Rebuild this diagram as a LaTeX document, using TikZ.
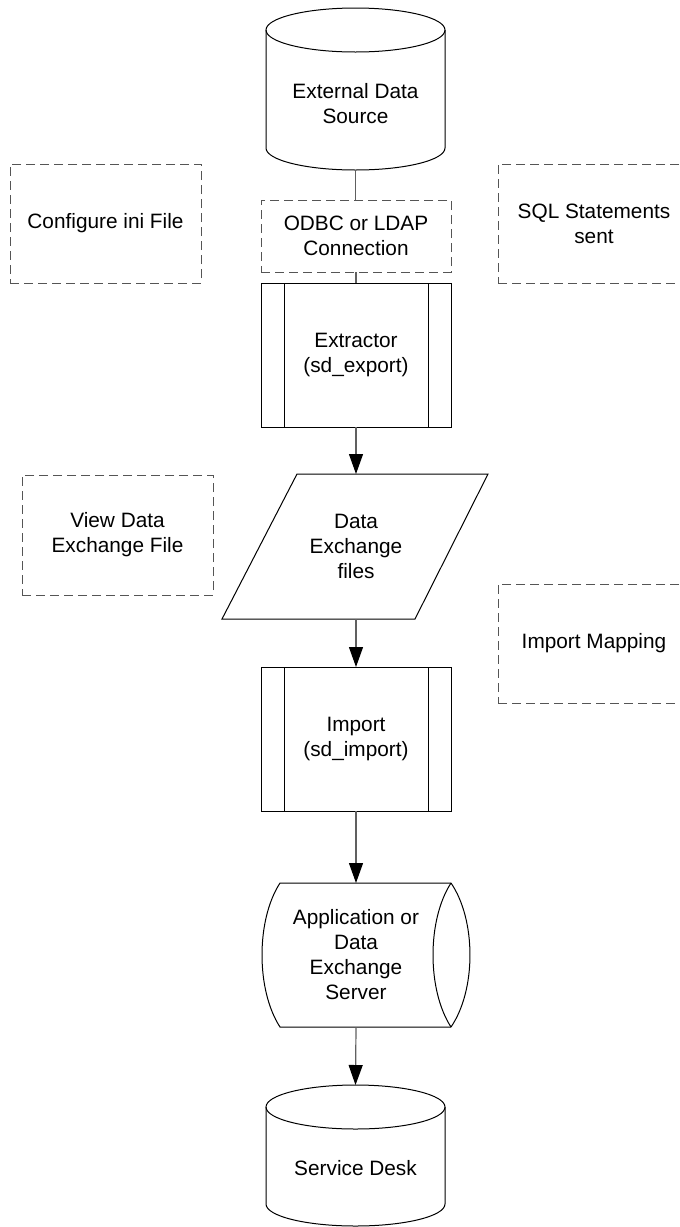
\documentclass[tikz,border=0pt]{standalone}
\usepackage{fontspec}
\setmainfont{Liberation Sans}
\usetikzlibrary{arrows.meta}
\definecolor{dashgray}{HTML}{555555}
\definecolor{linegray}{HTML}{606060}
\tikzset{
  every node/.style={font=\fontsize{20.8}{25}\selectfont, align=center, inner sep=0pt, outer sep=0pt},
  note/.style={draw=dashgray, dash pattern=on 9pt off 5pt, line width=1pt},
  proc/.style={draw=black, line width=1pt},
  conn/.style={draw=linegray, line width=1.2pt},
  arr/.style={conn, -{Triangle[length=20pt,width=14pt,fill=black,color=black]}},
}
\begin{document}
\begin{tikzpicture}[x=1pt,y=-1pt]
\useasboundingbox (0,0) rectangle (680,1227);

% ---- External Data Source (cylinder)
\node[minimum width=179pt, minimum height=162pt] (src) at (355.5,89) {};
\node (srcT) at (355.5,104) {External Data\\Source};
\draw[proc] (355.5,30) ellipse [x radius=89.5pt, y radius=22pt];
\draw[proc] (266,30) -- (266,148)
  .. controls (266,160.15) and (306.07,170) .. (355.5,170)
  .. controls (404.93,170) and (445,160.15) .. (445,148) -- (445,30);

% ---- side notes
\node[note, minimum width=191pt, minimum height=119pt] (cfg) at (105.5,223.5) {Configure ini File};
\node[note, minimum width=192pt, minimum height=119pt] (sql) at (594,223.5) {};
\node (sqlT) at (594,224) {SQL Statements\\sent};
\node[note, minimum width=191pt, minimum height=120pt] (view) at (117.5,535) {View Data\\Exchange File};
\node[note, minimum width=192pt, minimum height=119pt] (map) at (594,643.5) {};
\node (mapT) at (594,643.5) {Import Mapping};

% ---- ODBC connection
\node[note, minimum width=190pt, minimum height=72pt] (odbc) at (356,236) {ODBC or LDAP\\Connection};

% ---- Extractor (predefined process)
\node[proc, minimum width=190pt, minimum height=144pt] (ext) at (356,355) {Extractor\\(sd\_export)};
\draw[proc] ([xshift=23pt]ext.north west) -- ([xshift=23pt]ext.south west);
\draw[proc] ([xshift=-23pt]ext.north east) -- ([xshift=-23pt]ext.south east);

% ---- Data Exchange files (parallelogram)
\node[minimum width=190pt, minimum height=145pt] (dx) at (356,546.5) {Data\\Exchange\\files};
\draw[proc] (297,474) -- (488,474) -- (415,619) -- (222,619) -- cycle;

% ---- Import (predefined process)
\node[proc, minimum width=190pt, minimum height=144pt] (imp) at (356,739) {Import\\(sd\_import)};
\draw[proc] ([xshift=23pt]imp.north west) -- ([xshift=23pt]imp.south west);
\draw[proc] ([xshift=-23pt]imp.north east) -- ([xshift=-23pt]imp.south east);

% ---- Application or Data Exchange Server
\node[minimum width=171pt, minimum height=144pt] (srv) at (356,955) {Application or\\Data\\Exchange\\Server};
\draw[proc] (451,883) -- (280,883) .. controls (256,920) and (256,990) .. (280,1027) -- (451,1027);
\draw[proc] (451,883) .. controls (476.3,920) and (476.3,990) .. (451,1027);
\draw[proc] (451,883) .. controls (427,920) and (427,990) .. (451,1027);

% ---- Service Desk (cylinder)
\node[minimum width=179pt, minimum height=141pt] (sd) at (355.5,1155.5) {};
\node (sdT) at (355.5,1168) {Service Desk};
\draw[proc] (355.5,1107) ellipse [x radius=89.5pt, y radius=22pt];
\draw[proc] (266,1107) -- (266,1204)
  .. controls (266,1216.15) and (306.07,1226) .. (355.5,1226)
  .. controls (404.93,1226) and (445,1216.15) .. (445,1204) -- (445,1107);

% ---- connectors
\draw[conn] (src.south) -- (src.south |- odbc.north);
\draw[conn] (odbc.south) -- (ext.north);
\draw[arr] (ext.south) -- (dx.north);
\draw[arr] (dx.south) -- (imp.north);
\draw[arr] (imp.south) -- (srv.north);
\draw[arr] (srv.south) -- (sd.north);
\end{tikzpicture}
\end{document}
